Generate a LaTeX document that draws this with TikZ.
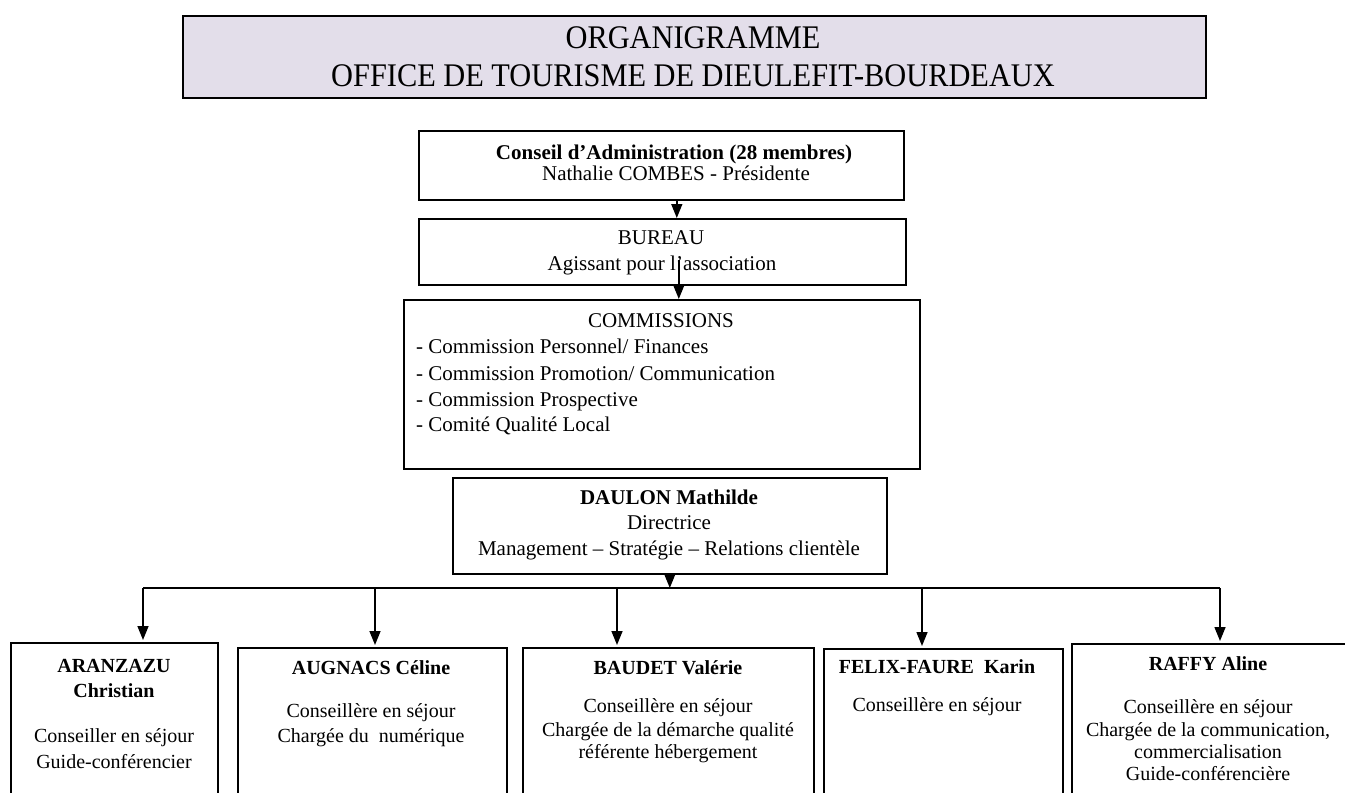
\documentclass[tikz,border=0pt]{standalone}
\usepackage{fontspec}
\setmainfont{Liberation Serif}
\newfontfamily\titlefont[FakeStretch=0.92]{Liberation Serif}
\usetikzlibrary{arrows.meta}
\definecolor{titlefill}{RGB}{227,222,234}

\begin{document}
\begin{tikzpicture}[x=1pt,y=-1pt]
    \tikzset{box/.style = {shape=rectangle,draw,line width=1.6pt,inner sep=0pt,anchor=north west},
             txt/.style = {inner sep=0pt,anchor=base,font=\fontsize{21}{25}\selectfont},
             lowtxt/.style = {txt,font=\fontsize{20}{24}\selectfont},
             arr/.style = {line width=1.5pt,-{Triangle[length=14pt,width=11pt]}}}
    \clip (0,0) rectangle (1345,793);
    \useasboundingbox (0,0) rectangle (1345,793);

    % Title
    \node[box,fill=titlefill,minimum width=1023pt,minimum height=82pt] (title) at (182,15) {};
    \node[txt,font=\titlefont\fontsize{33}{38}\selectfont] (title-1) at (693,48) {ORGANIGRAMME};
    \node[txt,font=\titlefont\fontsize{33}{38}\selectfont] (title-2) at (693,86) {OFFICE DE TOURISME DE DIEULEFIT-BOURDEAUX};

    % Boxes of the upper part
    \node[box,minimum width=485pt,minimum height=69pt] (conseil) at (418,130) {};
    \node[box,minimum width=487pt,minimum height=66pt] (bureau) at (418,218) {};
    \node[box,minimum width=516pt,minimum height=169pt] (comm) at (403,299) {};
    \node[box,minimum width=434pt,minimum height=96pt] (daulon) at (452,477) {};

    \node[txt,font=\fontsize{21}{25}\selectfont\bfseries] (conseil-1) at (674,159) {Conseil d’Administration (28 membres)};
    \node[txt] (conseil-2) at (676,180) {Nathalie COMBES - Présidente};
    \node[txt] (bureau-1) at (661,244) {BUREAU};
    \node[txt] (bureau-2) at (662,270) {Agissant pour l’association};
    \node[txt] (comm-1) at (661,327) {COMMISSIONS};
    \foreach \y/\t in {353/{Commission Personnel/ Finances}, 380/{Commission Promotion/ Communication},
                       406/{Commission Prospective}, 431/{Comité Qualité Local}}
        \node[txt,anchor=base west] (comm-\y) at (416,\y) {- \t};
    \node[txt,font=\fontsize{21}{25}\selectfont\bfseries] (daulon-1) at (669,504) {DAULON Mathilde};
    \node[txt] (daulon-2) at (669,529) {Directrice};
    \node[txt] (daulon-3) at (669,555) {Management – Stratégie – Relations clientèle};

    % Boxes of the team
    \node[box,minimum width=207pt,minimum height=170pt] (aranzazu) at (10,642) {};
    \node[box,minimum width=269pt,minimum height=170pt] (augnacs) at (237,647) {};
    \node[box,minimum width=291pt,minimum height=170pt] (baudet) at (522,647) {};
    \node[box,minimum width=239pt,minimum height=170pt] (felix) at (823,648) {};
    \node[box,minimum width=290pt,minimum height=170pt] (raffy) at (1071,643) {};

    \node[lowtxt,font=\fontsize{20}{24}\selectfont\bfseries] (aranzazu-1) at (114,672) {ARANZAZU};
    \node[lowtxt,font=\fontsize{20}{24}\selectfont\bfseries] (aranzazu-2) at (114,697) {Christian};
    \node[lowtxt] (aranzazu-3) at (114,742) {Conseiller en séjour};
    \node[lowtxt] (aranzazu-4) at (114,768) {Guide-conférencier};

    \node[lowtxt,font=\fontsize{20}{24}\selectfont\bfseries] (augnacs-1) at (371,674) {AUGNACS Céline};
    \node[lowtxt] (augnacs-2) at (371,717) {Conseillère en séjour};
    \node[lowtxt] (augnacs-3) at (371,742) {Chargée du\ \ numérique};

    \node[lowtxt,font=\fontsize{20}{24}\selectfont\bfseries] (baudet-1) at (668,674) {BAUDET Valérie};
    \node[lowtxt] (baudet-2) at (668,712) {Conseillère en séjour};
    \node[lowtxt] (baudet-3) at (668,736) {Chargée de la démarche qualité};
    \node[lowtxt] (baudet-4) at (668,758) {référente hébergement};

    \node[lowtxt,font=\fontsize{20}{24}\selectfont\bfseries] (felix-1) at (937,673) {FELIX-FAURE\ \ Karin};
    \node[lowtxt] (felix-2) at (937,711) {Conseillère en séjour};

    \node[lowtxt,font=\fontsize{20}{24}\selectfont\bfseries] (raffy-1) at (1208,670) {RAFFY Aline};
    \node[lowtxt] (raffy-2) at (1208,713) {Conseillère en séjour};
    \node[lowtxt] (raffy-3) at (1208,736) {Chargée de la communication,};
    \node[lowtxt] (raffy-4) at (1208,758) {commercialisation};
    \node[lowtxt] (raffy-5) at (1208,780) {Guide-conférencière};

    % Connectors
    \draw[arr] ([xshift=15.5pt]conseil.south) -- ([xshift=14.5pt]bureau.north);
    \draw[arr] ([xshift=16.5pt,yshift=26pt]bureau.south) -- ([xshift=17pt]comm.north);

    \coordinate (bus-w) at (143,588);
    \coordinate (bus-e) at (1220,588);
    \draw[line width=1.5pt] (bus-w) -- (bus-e);
    \draw[arr] (daulon.south) -- (daulon.south |- bus-w);

    \foreach \x/\name in {143/aranzazu, 375/augnacs, 617/baudet, 922/felix, 1220/raffy}{
        \coordinate (t-\name) at (\x,588);
        \draw[arr,shorten >=2pt] (t-\name) -- (t-\name |- \name.north);
    }
\end{tikzpicture}
\end{document}
